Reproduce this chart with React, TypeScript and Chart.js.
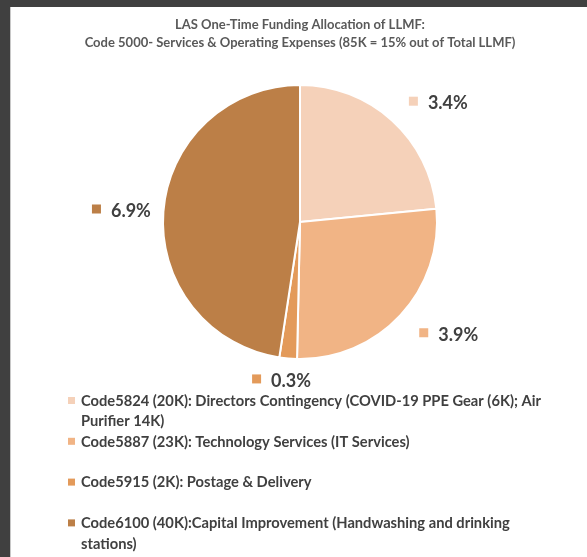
import { useEffect, useRef } from "react";
import { Chart, registerables } from "chart.js";

Chart.register(...registerables);

const titleLines = [
  "LAS One-Time Funding Allocation of LLMF:",
  "Code 5000- Services & Operating Expenses (85K = 15% out of Total LLMF)",
];

const categories: string[][] = [
  ["Code5824 (20K): Directors Contingency (COVID-19 PPE Gear (6K); Air", "Purifier 14K)"],
  ["Code5887 (23K): Technology Services (IT Services)"],
  ["Code5915 (2K): Postage & Delivery"],
  ["Code6100 (40K):Capital Improvement (Handwashing and drinking", "stations)"],
];

const percentValues = [3.4, 3.9, 0.3, 6.9];

const sliceColors = ["#F5D1B9", "#F1B485", "#E39A5A", "#BC7F47"];

const FONT = "Lato, 'Open Sans', sans-serif";

const overlayPlugin = {
  id: "overlay",
  afterDraw(chart: any, _args: any, opts: any) {
    const ctx: CanvasRenderingContext2D = chart.ctx;
    ctx.save();
    // title
    ctx.fillStyle = "#595959";
    ctx.font = `bold ${opts.titleSize}px ${FONT}`;
    ctx.textAlign = "center";
    ctx.textBaseline = "middle";
    const cx = (chart.chartArea.left + chart.chartArea.right) / 2;
    titleLines.forEach((t, i) => ctx.fillText(t, cx, opts.titleY + i * opts.titleLine));

    // data labels
    const meta = chart.getDatasetMeta(0);
    ctx.font = `bold ${opts.labelSize}px ${FONT}`;
    ctx.textAlign = "left";
    meta.data.forEach((arc: any, i: number) => {
      const p = arc.getProps(["x", "y", "startAngle", "endAngle", "outerRadius"], true);
      const mid = (p.startAngle + p.endAngle) / 2 + (opts.angleShift[i] * Math.PI) / 180;
      const d = opts.distance[i];
      const px = p.x + Math.cos(mid) * d;
      const py = p.y + Math.sin(mid) * d;
      const text = percentValues[i].toFixed(1) + "%";
      const tw = ctx.measureText(text).width;
      const sq = 9;
      const gap = 10;
      const w = sq + gap + tw;
      const left = px - w / 2;
      ctx.fillStyle = sliceColors[i];
      ctx.fillRect(left, py - sq / 2 - 1, sq, sq);
      ctx.fillStyle = "#404040";
      ctx.fillText(text, left + sq + gap, py + 1);
    });

    // legend
    ctx.font = `bold ${opts.legendSize}px ${FONT}`;
    ctx.textAlign = "left";
    categories.forEach((lines, i) => {
      const y0 = chart.chartArea.bottom + opts.legendOffset + i * opts.legendPitch;
      ctx.fillStyle = sliceColors[i];
      ctx.fillRect(opts.legendX, y0 - 4, 7, 7);
      ctx.fillStyle = "#404040";
      lines.forEach((ln, j) => ctx.fillText(ln, opts.legendX + 13, y0 + j * opts.legendLine));
    });
    ctx.restore();
  },
};

export default function App() {
  const ref = useRef<HTMLCanvasElement>(null);
  useEffect(() => {
    if (!ref.current) return;
    const chart = new Chart(ref.current, {
      type: "pie",
      data: {
        labels: categories,
        datasets: [
          {
            data: percentValues,
            backgroundColor: sliceColors,
            borderColor: "#ffffff",
            borderWidth: 2,
          },
        ],
      },
      options: {
        animation: false,
        responsive: true,
        maintainAspectRatio: false,
        layout: { padding: { top: 84, bottom: 197, left: 63, right: 50 } },
        plugins: {
          legend: { display: false },
          tooltip: { enabled: false },
          title: { display: false },
          overlay: {
            titleSize: 13,
            titleY: 25,
            titleLine: 18,
            labelSize: 18,
            distance: [183, 186, 159, 179],
            angleShift: [6.9, -5.9, 1.7, -0.5],
            legendSize: 14.7,
            legendX: 68,
            legendOffset: 41,
            legendPitch: 40.8,
            legendLine: 20.5,
          },
        } as any,
      },
      plugins: [overlayPlugin],
    });
    return () => chart.destroy();
  }, []);

  return (
    <div style={{ position: "fixed", left: 0, top: 0, width: 587, height: 557, background: "#404040" }}>
      <div
        style={{
          position: "absolute",
          left: 10,
          top: 7,
          right: 0,
          bottom: 0,
          background: "#ffffff",
          borderLeft: "1px solid #c8c8c8",
        }}
      />
      <div style={{ position: "absolute", left: 0, top: 0, width: 587, height: 557 }}>
        <canvas ref={ref} />
      </div>
    </div>
  );
}
